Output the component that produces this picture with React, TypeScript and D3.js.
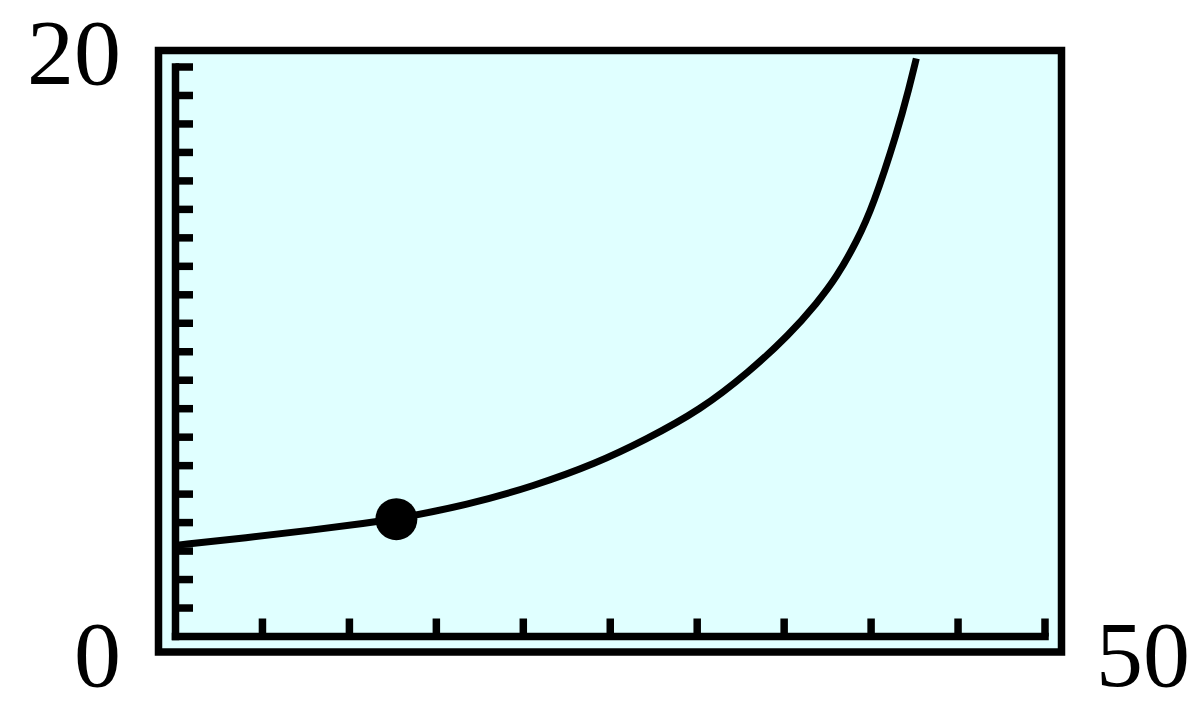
import * as d3 from "d3";

// curve (x, y)
const curveX = [0, 4.1, 7.9, 11.0, 12.7, 16.8, 20.6, 24.2, 27.0, 30.2, 33.0, 35.3, 36.9, 38.0, 39.2, 40.1, 41.5, 42.2, 42.6];
const curveY = [3.2, 3.47, 3.74, 3.98, 4.13, 4.62, 5.28, 6.08, 6.9, 7.96, 9.3, 10.6, 11.72, 12.6, 13.9, 15.1, 17.7, 19.3, 20.3];

const marked = { x: 12.7, y: 4.12 };

const xTicks = [5, 10, 15, 20, 25, 30, 35, 40, 45, 50];
const yTicks = [1, 2, 3, 4, 5, 6, 7, 8, 9, 10, 11, 12, 13, 14, 15, 16, 17, 18, 19, 20];
const cornerLabels = { yMin: "0", yMax: "20", xMax: "50" };

const W = 1200;
const H = 715;
const frame = { left: 158.5, top: 50.5, right: 1061.5, bottom: 652 };

export default function App() {
  const x = d3.scaleLinear().domain([0, 50]).range([175.5, 1045]);
  const y = d3.scaleLinear().domain([0, 20]).range([636.5, 67]);

  const points = curveX.map((v, i) => ({ x: v, y: curveY[i] }));
  // basis smooths out the small reading errors
  const line = d3
    .line<{ x: number; y: number }>()
    .x((d) => x(d.x))
    .y((d) => y(d.y))
    .curve(d3.curveBasis);

  const font = "'Liberation Serif', 'Times New Roman', serif";

  return (
    <svg
      width={W}
      height={H}
      style={{ position: "absolute", left: 0, top: 0, display: "block", background: "#fff" }}
    >
      <rect
        x={frame.left}
        y={frame.top}
        width={frame.right - frame.left}
        height={frame.bottom - frame.top}
        fill="#e0ffff"
        stroke="#000"
        strokeWidth={7.5}
      />

      {/* y ticks */}
      {yTicks.map((t) => (
        <line key={"y" + t} x1={x(0)} x2={x(0) + 17.5} y1={y(t)} y2={y(t)} stroke="#000" strokeWidth={7.5} />
      ))}
      {/* x ticks */}
      {xTicks.map((t) => (
        <line key={"x" + t} x1={x(t)} x2={x(t)} y1={y(0)} y2={y(0) - 18} stroke="#000" strokeWidth={7.5} />
      ))}

      {/* axes */}
      <line x1={x(0)} x2={x(0)} y1={y(20)} y2={y(0)} stroke="#000" strokeWidth={7.5} strokeLinecap="square" />
      <line x1={x(0)} x2={x(50)} y1={y(0)} y2={y(0)} stroke="#000" strokeWidth={7.5} strokeLinecap="square" />

      <path d={line(points) ?? ""} fill="none" stroke="#000" strokeWidth={7} />
      <circle cx={x(marked.x)} cy={y(marked.y)} r={21} fill="#000" />

      <g fontFamily={font} fontSize={94} fill="#000">
        <text x={121} y={84} textAnchor="end">{cornerLabels.yMax}</text>
        <text x={121} y={686} textAnchor="end">{cornerLabels.yMin}</text>
        <text x={1096} y={686} textAnchor="start">{cornerLabels.xMax}</text>
      </g>
    </svg>
  );
}
